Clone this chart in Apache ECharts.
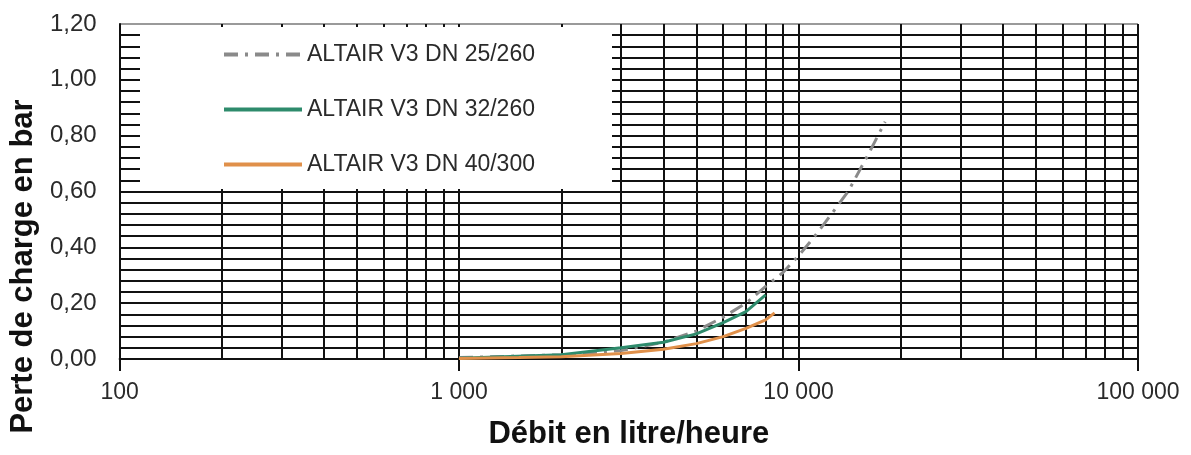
<!DOCTYPE html>
<html>
<head>
<meta charset="utf-8">
<script src="https://cdn.jsdelivr.net/npm/echarts@6/dist/echarts.min.js"></script>
<style>
html,body{margin:0;padding:0;background:#fff;}
#chart{width:1191px;height:455px;}
</style>
</head>
<body>
<div id="chart"></div>
<script>
// ---- data ----
const seriesNames = ['ALTAIR V3 DN 25/260', 'ALTAIR V3 DN 32/260', 'ALTAIR V3 DN 40/300'];

const flowDN25 = [1000, 2000, 3000, 4000, 5000, 6000, 7000, 8000, 9000, 10000, 11000, 12000, 14000, 16000, 18000];
const lossDN25 = [0.005, 0.015, 0.03, 0.06, 0.10, 0.15, 0.20, 0.26, 0.31, 0.37, 0.43, 0.49, 0.60, 0.73, 0.85];

const flowDN32 = [1000, 2000, 3000, 4000, 5000, 6000, 7000, 8000];
const lossDN32 = [0.003, 0.015, 0.04, 0.06, 0.09, 0.13, 0.17, 0.23];

const flowDN40 = [1000, 1500, 2000, 3000, 4000, 5000, 6000, 7000, 8000, 8500];
const lossDN40 = [0.002, 0.005, 0.008, 0.02, 0.035, 0.055, 0.08, 0.11, 0.14, 0.165];

// minor (log) vertical gridlines
const minorGridX = [200, 300, 400, 500, 600, 700, 800, 900,
                    2000, 3000, 4000, 5000, 6000, 7000, 8000, 9000,
                    20000, 30000, 40000, 50000, 60000, 70000, 80000, 90000];

const xMin = 100, xMax = 100000;
const yMin = 0, yMax = 1.2, yStep = 0.2;

// ---- chart ----
const zip = (xs, ys) => xs.map((x, i) => [x, ys[i]]);
const FONT = 'Liberation Sans, Arial, sans-serif';
const fmtX = v => String(Math.round(v)).replace(/\B(?=(\d{3})+(?!\d))/g, ' ');
const fmtY = v => v.toFixed(2).replace('.', ',');

const chart = echarts.init(document.getElementById('chart'), null, {renderer: 'canvas'});
chart.setOption({
  backgroundColor: '#ffffff',
  animation: false,
  textStyle: {fontFamily: FONT},
  grid: {left: 118, right: 53, top: 24, bottom: 89, containLabel: false},
  xAxis: {
    type: 'log', logBase: 10, min: xMin, max: xMax,
    name: 'Débit en litre/heure', nameLocation: 'middle', nameGap: 60,
    nameTextStyle: {fontFamily: FONT, fontSize: 31, fontWeight: 'bold', color: '#111'},
    axisLine: {show: true, lineStyle: {color: '#111', width: 2}},
    axisTick: {show: true, inside: false, length: 12, lineStyle: {color: '#111', width: 2}},
    axisLabel: {fontFamily: FONT, fontSize: 23, color: '#2a2a2a', margin: 22, formatter: fmtX},
    splitLine: {show: true, lineStyle: {color: '#111', width: 2}},
    minorTick: {show: false}, minorSplitLine: {show: false}
  },
  yAxis: {
    type: 'value', min: yMin, max: yMax, interval: yStep,
    name: 'Perte de charge en bar', nameLocation: 'middle', nameGap: 76, nameRotate: 90,
    nameTextStyle: {fontFamily: FONT, fontSize: 31, fontWeight: 'bold', color: '#111', padding: [0, 150, 0, 0]},
    axisLine: {show: true, lineStyle: {color: '#111', width: 2}},
    axisTick: {show: false},
    axisLabel: {fontFamily: FONT, fontSize: 24, color: '#2a2a2a', margin: 23, formatter: fmtY},
    splitLine: {show: true, lineStyle: {color: ['#111', '#111', '#111', '#111', '#111', '#111', '#9a9a9a'], width: 2}},
    minorTick: {show: false, splitNumber: 5},
    minorSplitLine: {show: true, lineStyle: {color: '#111', width: 2}}
  },
  legend: {
    orient: 'vertical', left: 217, top: 38, z: 60,
    itemWidth: 78, itemHeight: 14, itemGap: 32,
    itemStyle: {opacity: 0},
    lineStyle: {width: 4},
    textStyle: {fontFamily: FONT, fontSize: 23, color: '#2a2a2a'},
    data: seriesNames
  },
  graphic: [{
    type: 'rect', z: 50, silent: true,
    shape: {x: 140, y: 27, width: 472, height: 162},
    style: {fill: '#ffffff'}
  }],
  series: [
    {
      name: 'grid-minor', type: 'line', data: [], z: 1, silent: true,
      markLine: {
        silent: true, symbol: ['none', 'none'], animation: false,
        label: {show: false},
        lineStyle: {color: '#111', width: 2, type: 'solid'},
        data: minorGridX.map(v => ({xAxis: v}))
      }
    },
    {
      name: seriesNames[0], type: 'line', z: 5, symbol: 'none',
      data: zip(flowDN25, lossDN25),
      lineStyle: {color: '#8a8a8a', width: 3, type: [14, 7, 3, 7]},
      itemStyle: {color: '#8a8a8a'}
    },
    {
      name: seriesNames[1], type: 'line', z: 6, symbol: 'none',
      data: zip(flowDN32, lossDN32),
      lineStyle: {color: '#2e8b6c', width: 3},
      itemStyle: {color: '#2e8b6c'}
    },
    {
      name: seriesNames[2], type: 'line', z: 7, symbol: 'none',
      data: zip(flowDN40, lossDN40),
      lineStyle: {color: '#e0904a', width: 3},
      itemStyle: {color: '#e0904a'}
    }
  ]
});
</script>
</body>
</html>
